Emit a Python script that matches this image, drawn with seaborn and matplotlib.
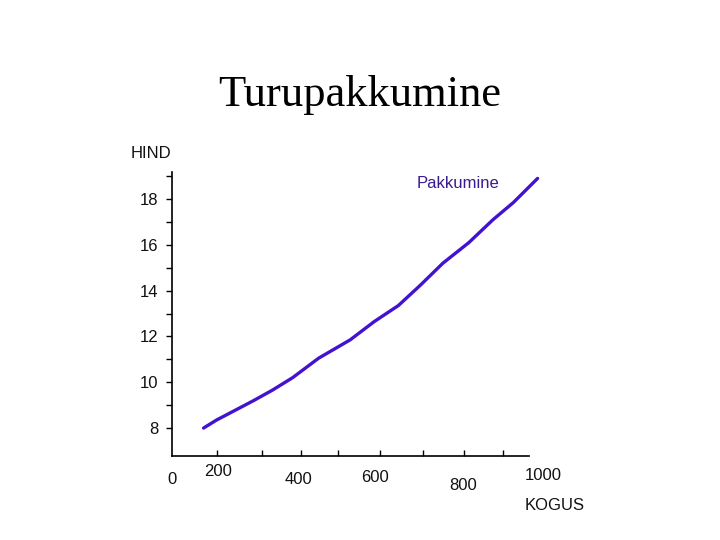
import numpy as np
import pandas as pd
import matplotlib
matplotlib.use("Agg")
import matplotlib.pyplot as plt
import seaborn as sns

# ==========================================
# Data
# ==========================================

kogus = [85, 120, 220, 270, 325, 395, 480, 545, 610, 670, 730, 800, 865, 920, 985]
hind = [8.0, 8.35, 9.2, 9.65, 10.2, 11.05, 11.85, 12.65, 13.35, 14.25,
        15.2, 16.1, 17.1, 17.85, 18.9]

y_major = [8, 10, 12, 14, 16, 18]
y_minor = [9, 11, 13, 15, 17, 19]
x_tick_marks = [121, 243, 348, 447, 560, 676, 787, 892]

# x labels sit at odd places in the original
x_labels = ["0", "200", "400", "600", "800", "1000"]
x_label_pos = [0, 124, 340, 547, 784, 1000]
x_label_drop = [24, 16, 23, 21, 29, 19]

df = pd.DataFrame({"KOGUS": kogus, "HIND": hind})

# ==========================================
# Plot
# ==========================================

sns.set_style("white")
plt.rcParams["font.family"] = ["Liberation Sans", "DejaVu Sans"]

fig = plt.figure(figsize=(7.2, 5.4), dpi=100)
ax = fig.add_axes([172 / 720, 1 - 456 / 540, 373 / 720, 284 / 540])

sns.lineplot(data=df, x="KOGUS", y="HIND", ax=ax,
             color="#4212d0", linewidth=2.4, clip_on=False)

ax.set_xlim(0, 1005)
ax.set_ylim(6.78, 19.18)

for side in ["top", "right"]:
    ax.spines[side].set_visible(False)
ax.spines["bottom"].set_bounds(0, 962)
ax.spines["left"].set_color("black")
ax.spines["bottom"].set_color("black")
ax.spines["left"].set_linewidth(1.2)
ax.spines["bottom"].set_linewidth(1.2)

ax.set_yticks(y_major)
ax.set_yticks(y_minor, minor=True)
ax.set_yticklabels([str(v) for v in y_major], fontsize=12, color="#111111")
ax.tick_params(axis="y", which="both", direction="out", length=4,
               width=1, color="black", pad=6, left=True)

ax.set_xticks(x_tick_marks)
ax.set_xticklabels([])
ax.tick_params(axis="x", which="both", direction="in", length=4,
               width=1, color="black", bottom=True)

for lab, pos, drop in zip(x_labels, x_label_pos, x_label_drop):
    ax.annotate(lab, xy=(pos, 6.78), xytext=(0, -drop),
                textcoords="offset pixels", ha="center", va="center",
                fontsize=12, color="#111111", annotation_clip=False)

ax.set_xlabel("")
ax.set_ylabel("")

fig.text(151 / 720, 1 - 153 / 540, "HIND", ha="center", va="center",
         fontsize=12, color="#111111")
fig.text(555 / 720, 1 - 506 / 540, "KOGUS", ha="center", va="center",
         fontsize=12, color="#111111")
fig.text(458 / 720, 1 - 184 / 540, "Pakkumine", ha="center", va="center",
         fontsize=12, color="#3a1a90")

fig.text(0.5, 1 - 95 / 540, "Turupakkumine", ha="center", va="center",
         fontsize=32, color="black",
         family=["Liberation Serif", "DejaVu Serif"])

fig.savefig("out.png", dpi=100, facecolor="white")
